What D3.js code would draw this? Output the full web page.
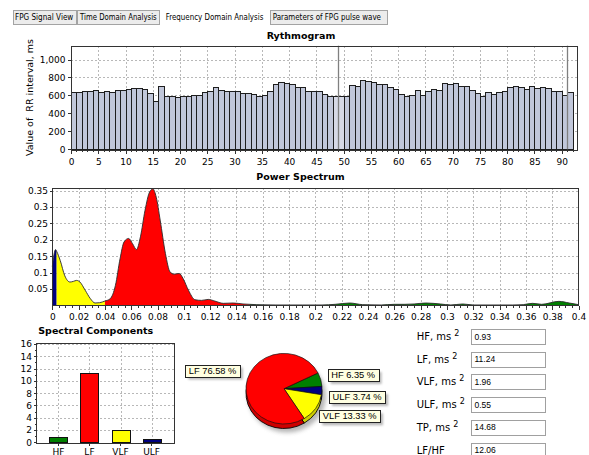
<!DOCTYPE html>
<html>
<head>
<meta charset="utf-8">
<script src="https://cdn.jsdelivr.net/npm/d3@7/dist/d3.min.js"></script>
<style>
html,body{margin:0;padding:0;background:#fff;}
svg{display:block;}
</style>
</head>
<body>
<svg id="chart" width="589" height="455"></svg>
<script>
// ---------------- data ----------------
const tabLabels = ["FPG Signal View", "Time Domain Analysis", "Frequency Domain Analysis", "Parameters of FPG pulse wave"];
const activeTab = "Frequency Domain Analysis";

const rrIntervals = [642,642,653,646,664,634,653,642,664,657,
  671,679,679,671,627,542,701,597,597,582,
  590,590,601,609,634,646,690,657,646,646,
  646,627,627,612,590,609,646,727,746,738,
  731,697,697,646,646,646,620,597,597,597,
  597,712,701,768,757,746,731,723,694,675,
  620,590,601,657,601,646,675,657,734,727,
  734,701,701,657,627,590,634,612,638,646,
  694,705,694,675,705,686,694,686,646,646,
  601,634];
const rrXTicks = [0,5,10,15,20,25,30,35,40,45,50,55,60,65,70,75,80,85,90];
const rrYTicks = [0,200,400,600,800,1000];
const rrMarkers = [49, 91];
const rrSelected = [48, 49];

const freqHz = [0,0.0025,0.0035,0.006,0.0095,0.0135,0.016,0.0185,0.021,0.025,
  0.029,0.0325,0.036,0.04,0.044,0.048,0.0515,0.0545,0.058,0.061,
  0.064,0.067,0.0705,0.074,0.0765,0.079,0.082,0.086,0.0895,0.0925,
  0.0965,0.0995,0.1035,0.1085,0.1135,0.1185,0.1235,0.13,0.1375,0.145,
  0.155,0.17,0.19,0.205,0.215,0.226,0.236,0.25,0.26,0.268,
  0.275,0.284,0.295,0.303,0.312,0.32,0.335,0.35,0.358,0.365,
  0.372,0.385,0.393,0.4];
const power = [0.118,0.17,0.163,0.137,0.09,0.071,0.073,0.076,0.071,0.046,
  0.02,0.007,0.008,0.013,0.02,0.061,0.142,0.193,0.204,0.188,
  0.17,0.209,0.29,0.346,0.355,0.33,0.26,0.158,0.102,0.095,
  0.097,0.081,0.046,0.017,0.015,0.018,0.013,0.006,0.007,0.004,
  0.002,0.001,0.001,0.001,0.003,0.007,0.002,0.001,0.003,0.003,
  0.004,0.007,0.004,0.001,0.004,0.001,0.001,0.001,0.002,0.006,
  0.003,0.012,0.007,0.002];
const bandNames = ["ULF","VLF","LF","HF"];
const bandEdges = [0, 0.0033, 0.04, 0.15, 0.4];
const bandColors = ["#000080","#ffff00","#ff0000","#008000"];
const specXTicks = [0,0.02,0.04,0.06,0.08,0.1,0.12,0.14,0.16,0.18,0.2,0.22,0.24,0.26,0.28,0.3,0.32,0.34,0.36,0.38,0.4];
const specYTicks = [0.05,0.1,0.15,0.2,0.25,0.3,0.35];

const compCategories = ["HF","LF","VLF","ULF"];
const compValues = [0.93, 11.24, 1.96, 0.55];
const compColors = ["#008000","#ff0000","#ffff00","#000080"];
const compYTicks = [0,2,4,6,8,10,12,14,16];

const pieNames = ["HF","ULF","VLF","LF"];
const piePercents = [6.35, 3.74, 13.33, 76.58];
const pieColors = ["#008000","#000080","#ffff00","#ff0000"];

const paramLabels = ["HF, ms","LF, ms","VLF, ms","ULF, ms","TP, ms","LF/HF"];
const paramSquared = [true,true,true,true,true,false];
const paramValues = ["0.93","11.24","1.96","0.55","14.68","12.06"];

// ---------------- drawing ----------------
const F = '"DejaVu Sans", Verdana, sans-serif';
const FA = '"Liberation Sans", Arial, sans-serif';
const svg = d3.select("#chart");
const defs = svg.append("defs");
defs.append("filter").attr("id","blur").attr("x","-20%").attr("y","-20%").attr("width","140%").attr("height","140%")
  .append("feGaussianBlur").attr("stdDeviation",1.2);
defs.append("filter").attr("id","blur2").attr("x","-20%").attr("y","-20%").attr("width","140%").attr("height","140%")
  .append("feGaussianBlur").attr("stdDeviation",2);

function styleAxis(g, size){
  g.select(".domain").remove();
  g.selectAll("line").attr("stroke","#333").attr("shape-rendering","crispEdges");
  g.selectAll("text").attr("font-family",F).attr("font-size",size||9).attr("fill","#000");
}
const GRID = "#b8b8b8";

// ---- tabs ----
const tabG = svg.append("g");
const tabScale = d3.scaleOrdinal().domain(tabLabels).range([[12.5,76.5,15,58.3],[76.5,160,80,76.7],[161,268,165.7,97.7],[269.5,388,272.7,108.3]]);
tabLabels.forEach(t => {
  const [x0,x1,tx,tw] = tabScale(t);
  const act = t === activeTab;
  if (!act) {
    tabG.append("rect").attr("x",x0+0.5).attr("y",10.5).attr("width",x1-x0-1).attr("height",14)
      .attr("fill","#ececec").attr("stroke","#a3a3a3").attr("shape-rendering","crispEdges");
  }
  tabG.append("text").attr("x",tx).attr("y",19.5).attr("font-family",F).attr("font-size",8.5)
    .attr("textLength",tw).attr("lengthAdjust","spacingAndGlyphs").attr("fill","#000").text(t);
});

// ---- Rythmogram ----
const rx = d3.scaleLinear().domain([0, 92.85]).range([71, 577.3]);
const ry = d3.scaleLinear().domain([0, 1154]).range([149.3, 45.7]);
const rr = svg.append("g");
rr.selectAll(".vg").data(rrXTicks.filter(d=>d>0)).join("line")
  .attr("x1",d=>Math.round(rx(d))+0.5).attr("x2",d=>Math.round(rx(d))+0.5)
  .attr("y1",ry.range()[1]).attr("y2",ry.range()[0])
  .attr("stroke",GRID).attr("stroke-dasharray","2,2").attr("shape-rendering","crispEdges");
rr.selectAll(".hg").data(rrYTicks.filter(d=>d>0)).join("line")
  .attr("x1",rx.range()[0]).attr("x2",rx.range()[1])
  .attr("y1",d=>Math.round(ry(d))+0.5).attr("y2",d=>Math.round(ry(d))+0.5)
  .attr("stroke",GRID).attr("stroke-dasharray","2,2").attr("shape-rendering","crispEdges");
rr.selectAll(".bar").data(rrIntervals).join("rect")
  .attr("x",(d,i)=>Math.round(rx(i))+0.5)
  .attr("width",(d,i)=>Math.round(rx(i+1))-Math.round(rx(i)))
  .attr("y",d=>Math.round(ry(d))+0.5)
  .attr("height",d=>Math.round(ry(0))-Math.round(ry(d)))
  .attr("fill",(d,i)=>rrSelected.includes(i)?"#d6d9e6":"#c1c7da")
  .attr("stroke","#1e1e1e").attr("shape-rendering","crispEdges");
rr.selectAll(".mk").data(rrMarkers).join("line")
  .attr("x1",d=>Math.round(rx(d))+0.5).attr("x2",d=>Math.round(rx(d))+0.5)
  .attr("y1",ry.range()[1]).attr("y2",ry.range()[0])
  .attr("stroke","#808080").attr("stroke-width",1.3);
rr.append("rect").attr("x",Math.round(rx.range()[0])+0.5).attr("y",Math.round(ry.range()[1])+0.5)
  .attr("width",Math.round(rx.range()[1]-rx.range()[0])).attr("height",Math.round(ry.range()[0]-ry.range()[1]))
  .attr("fill","none").attr("stroke","#333").attr("shape-rendering","crispEdges");
rr.append("g").attr("transform",`translate(0,${Math.round(ry(0))+0.5})`)
  .call(d3.axisBottom(rx).tickValues(d3.range(0,93)).tickSize(2).tickFormat("")).call(g=>styleAxis(g));
rr.append("g").attr("transform",`translate(0,${Math.round(ry(0))+0.5})`)
  .call(d3.axisBottom(rx).tickValues(rrXTicks).tickSize(4).tickPadding(5).tickFormat(d3.format("d"))).call(g=>styleAxis(g));
rr.append("g").attr("transform",`translate(${Math.round(rx(0))+0.5},0)`)
  .call(d3.axisLeft(ry).tickValues(rrYTicks).tickSize(4).tickPadding(2).tickFormat(d3.format(","))).call(g=>styleAxis(g));
rr.append("text").attr("transform","translate(33.3,97.5) rotate(-90)").attr("text-anchor","middle")
  .attr("font-family",F).attr("font-size",9.5).style("white-space","pre").text("Value of  RR interval, ms");
rr.append("text").attr("x",301).attr("y",38.5).attr("text-anchor","middle").attr("font-family",F)
  .attr("font-weight","bold").attr("font-size",9.5).text("Rythmogram");

// ---- Power Spectrum ----
const sx = d3.scaleLinear().domain([0,0.4]).range([52.3,578.5]);
const sy = d3.scaleLinear().domain([0,0.357]).range([305.3,188.3]);
const sp = svg.append("g");
sp.selectAll(".vg").data(specXTicks.filter(d=>d>0&&d<0.4)).join("line")
  .attr("x1",d=>Math.round(sx(d))+0.5).attr("x2",d=>Math.round(sx(d))+0.5)
  .attr("y1",sy.range()[1]).attr("y2",sy.range()[0])
  .attr("stroke",GRID).attr("stroke-dasharray","2,2").attr("shape-rendering","crispEdges");
sp.selectAll(".hg").data(specYTicks).join("line")
  .attr("x1",sx.range()[0]).attr("x2",sx.range()[1])
  .attr("y1",d=>Math.round(sy(d))+0.5).attr("y2",d=>Math.round(sy(d))+0.5)
  .attr("stroke",GRID).attr("stroke-dasharray","2,2").attr("shape-rendering","crispEdges");
const spec = freqHz.map((f,i)=>({f, p: power[i]}));
const area = d3.area().x(d=>sx(d.f)).y0(sy(0)).y1(d=>sy(d.p)).curve(d3.curveMonotoneX);
const line = d3.line().x(d=>sx(d.f)).y(d=>sy(d.p)).curve(d3.curveMonotoneX);
bandNames.forEach((b,i)=>{
  defs.append("clipPath").attr("id","clip"+b).append("rect")
    .attr("x",sx(bandEdges[i])).attr("width",sx(bandEdges[i+1])-sx(bandEdges[i]))
    .attr("y",sy.range()[1]).attr("height",sy.range()[0]-sy.range()[1]);
  sp.append("path").datum(spec).attr("d",area).attr("fill",bandColors[i]).attr("clip-path",`url(#clip${b})`);
});
sp.append("path").datum(spec).attr("d",line).attr("fill","none").attr("stroke","#2a2a2a").attr("stroke-width",0.9);
sp.append("rect").attr("x",Math.round(sx.range()[0])+0.5).attr("y",Math.round(sy.range()[1])+0.5)
  .attr("width",Math.round(sx.range()[1]-sx.range()[0])).attr("height",Math.round(sy.range()[0]-sy.range()[1]))
  .attr("fill","none").attr("stroke","#333").attr("shape-rendering","crispEdges");
sp.append("g").attr("transform",`translate(0,${Math.round(sy(0))+0.5})`)
  .call(d3.axisBottom(sx).tickValues(d3.range(0,81).map(k=>k*0.005)).tickSize(2).tickFormat("")).call(g=>styleAxis(g));
sp.append("g").attr("transform",`translate(0,${Math.round(sy(0))+0.5})`)
  .call(d3.axisBottom(sx).tickValues(specXTicks).tickSize(4).tickPadding(4.3).tickFormat(d3.format("~g"))).call(g=>styleAxis(g));
sp.append("g").attr("transform",`translate(${Math.round(sx(0))+0.5},0)`)
  .call(d3.axisLeft(sy).tickValues(specYTicks).tickSize(3).tickPadding(1.5).tickFormat(d3.format("~g"))).call(g=>styleAxis(g));
sp.append("text").attr("x",300.5).attr("y",180).attr("text-anchor","middle").attr("font-family",F)
  .attr("font-weight","bold").attr("font-size",9.5).text("Power Spectrum");

// ---- Spectral Components ----
const bx = d3.scaleBand().domain(compCategories).range([36,174]).paddingInner(0.42).paddingOuter(0.43);
const by = d3.scaleLinear().domain([0,16.2]).range([442.3,342.7]);
const sc = svg.append("g");
sc.selectAll(".vg").data(compCategories).join("line")
  .attr("x1",d=>Math.round(bx(d)+bx.bandwidth()/2)+0.5).attr("x2",d=>Math.round(bx(d)+bx.bandwidth()/2)+0.5)
  .attr("y1",by.range()[1]).attr("y2",by.range()[0])
  .attr("stroke",GRID).attr("stroke-dasharray","2,2").attr("shape-rendering","crispEdges");
sc.selectAll(".hg").data(compYTicks.filter(d=>d>0)).join("line")
  .attr("x1",bx.range()[0]).attr("x2",bx.range()[1])
  .attr("y1",d=>Math.round(by(d))+0.5).attr("y2",d=>Math.round(by(d))+0.5)
  .attr("stroke",GRID).attr("stroke-dasharray","2,2").attr("shape-rendering","crispEdges");
sc.selectAll(".bar").data(compValues).join("rect")
  .attr("x",(d,i)=>Math.round(bx(compCategories[i]))+0.5).attr("width",Math.round(bx.bandwidth()))
  .attr("y",d=>Math.round(by(d))+0.5).attr("height",d=>Math.round(by(0))-Math.round(by(d)))
  .attr("fill",(d,i)=>compColors[i]).attr("stroke","#111").attr("shape-rendering","crispEdges");
sc.append("rect").attr("x",Math.round(bx.range()[0])+0.5).attr("y",Math.round(by.range()[1])+0.5)
  .attr("width",Math.round(bx.range()[1]-bx.range()[0])).attr("height",Math.round(by.range()[0]-by.range()[1]))
  .attr("fill","none").attr("stroke","#333").attr("shape-rendering","crispEdges");
sc.append("g").attr("transform",`translate(${Math.round(bx.range()[0])+0.5},0)`)
  .call(d3.axisLeft(by).tickValues(d3.range(1,17,2)).tickSize(2).tickFormat("")).call(g=>styleAxis(g));
sc.append("g").attr("transform",`translate(${Math.round(bx.range()[0])+0.5},0)`)
  .call(d3.axisLeft(by).tickValues(compYTicks).tickSize(3).tickPadding(1.5)).call(g=>styleAxis(g));
sc.append("g").attr("transform",`translate(0,${Math.round(by(0))+0.5})`)
  .call(d3.axisBottom(bx).tickSize(3).tickPadding(3)).call(g=>styleAxis(g));
sc.append("text").attr("x",95.7).attr("y",334).attr("text-anchor","middle").attr("font-family",F)
  .attr("font-weight","bold").attr("font-size",9.5).text("Spectral Components");

// ---- Pie ----
const pieCx = 284, pieCy = 388.7, pieR = 38, squash = 0.929, depth = 4.5;
const a0 = 63.5*Math.PI/180;
const pieData = d3.pie().sort(null).startAngle(a0).endAngle(a0+2*Math.PI)(piePercents);
const arc = d3.arc().innerRadius(0).outerRadius(pieR);
const pg = svg.append("g");
pg.append("ellipse").attr("cx",pieCx+3).attr("cy",pieCy+depth+3).attr("rx",pieR+1).attr("ry",pieR*squash+1)
  .attr("fill","#7a7a7a").attr("opacity",0.55).attr("filter","url(#blur2)");
const pieLow = pg.append("g").attr("transform",`translate(${pieCx},${pieCy+depth}) scale(1,${squash})`);
pieLow.selectAll("path").data(pieData).join("path").attr("d",arc)
  .attr("fill",(d,i)=>d3.color(pieColors[i]).darker(0.6)).attr("stroke","#000").attr("stroke-width",0.9);
const pieTop = pg.append("g").attr("transform",`translate(${pieCx},${pieCy}) scale(1,${squash})`);
pieTop.selectAll("path").data(pieData).join("path").attr("d",arc)
  .attr("fill",(d,i)=>pieColors[i]).attr("stroke","#111").attr("stroke-width",0.7);

const labelPos = d3.scaleOrdinal().domain(pieNames).range([[327.7,369],[329,391],[319.3,410.3],[185.3,364.5]]);
pieNames.forEach((n,i)=>{
  const [x,y] = labelPos(n);
  const g = pg.append("g");
  const t = g.append("text").attr("x",x+3.5).attr("y",y+9).attr("font-family",FA).attr("font-size",9.3)
    .attr("fill","#000").text(`${n} ${d3.format(".2f")(piePercents[i])} %`);
  const w = t.node().getComputedTextLength()+7;
  g.insert("rect","text").attr("x",x+3).attr("y",y+3).attr("width",w).attr("height",12)
    .attr("fill","#8a8a8a").attr("opacity",0.6).attr("filter","url(#blur)");
  g.insert("rect","text").attr("x",Math.round(x)+0.5).attr("y",Math.round(y)+0.5).attr("width",Math.round(w)).attr("height",12)
    .attr("fill","#ffffe1").attr("stroke","#222").attr("shape-rendering","crispEdges");
});

// ---- Parameter table ----
const rowY = d3.scaleLinear().domain([0,5]).range([336.5,450]);
const pt = svg.append("g");
paramLabels.forEach((lab,i)=>{
  const cy = rowY(i);
  const t = pt.append("text").attr("x",416.7).attr("y",cy+3.5).attr("font-family",F).attr("font-size",10).attr("fill","#000");
  t.append("tspan").text(lab);
  if (paramSquared[i]) t.append("tspan").attr("dx",3).attr("dy",-4).attr("font-size",8).text("2");
  pt.append("rect").attr("x",471.5).attr("y",Math.round(cy-7.5)+0.5).attr("width",74).attr("height",15)
    .attr("fill","#fff").attr("stroke","#a0a0a0").attr("shape-rendering","crispEdges");
  pt.append("text").attr("x",474.5).attr("y",cy+3).attr("font-family",FA).attr("font-size",8.5).attr("fill","#000").text(paramValues[i]);
});
</script>
</body>
</html>
